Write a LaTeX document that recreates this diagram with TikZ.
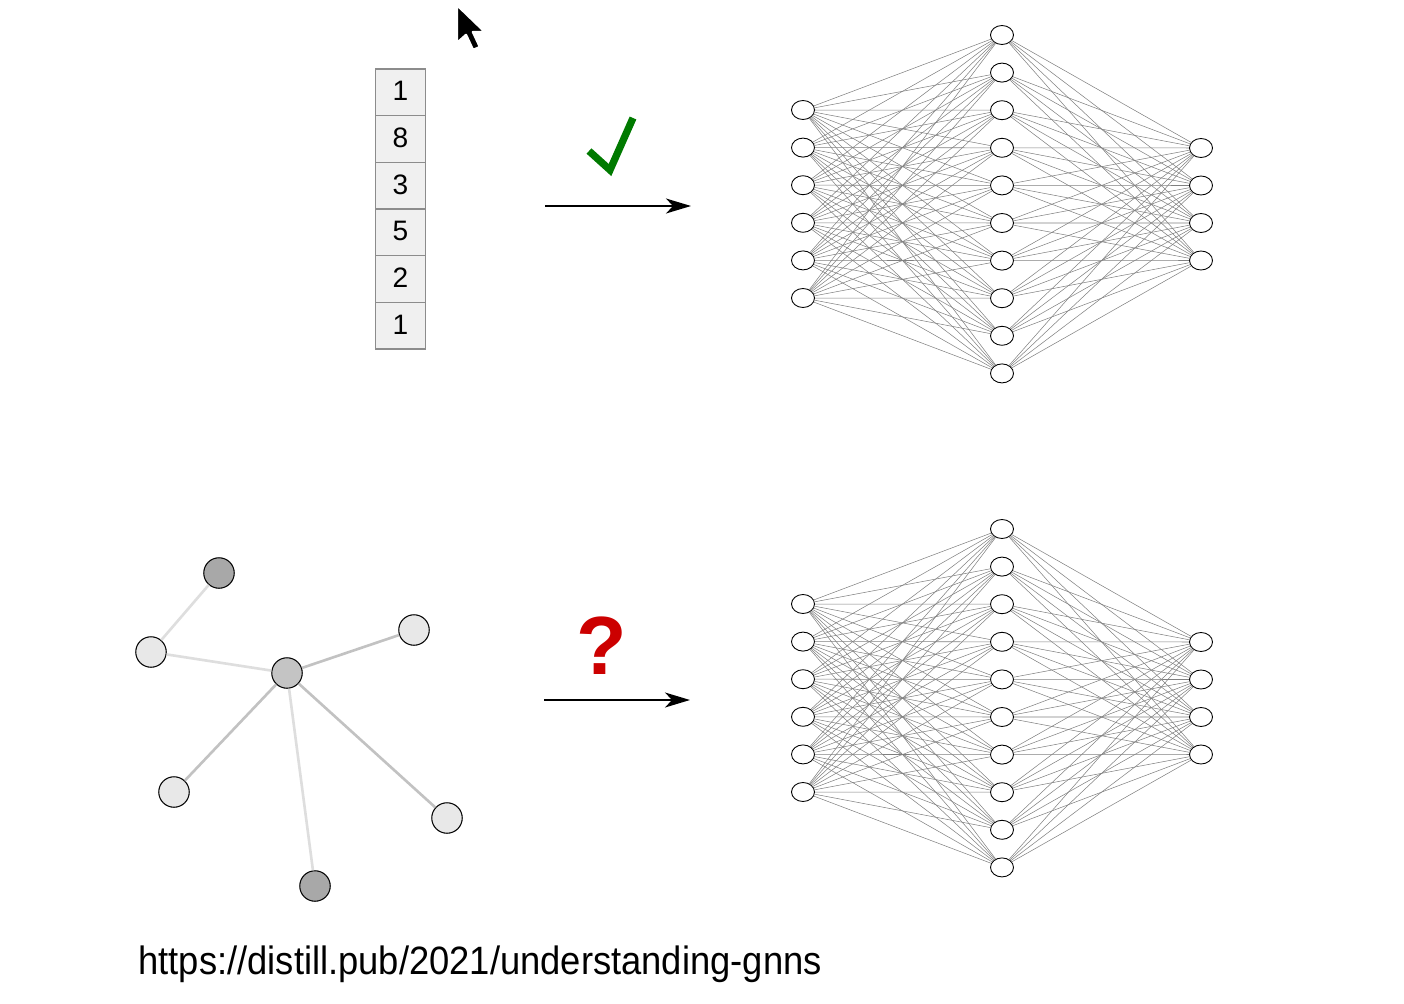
\documentclass[tikz,border=0pt]{standalone}
\usepackage{fontspec}
\setmainfont{Liberation Sans}
\usepackage{graphicx}
\usetikzlibrary{shapes.geometric}
\usetikzlibrary{arrows.meta}
\definecolor{okgreen}{RGB}{0,122,0}
\definecolor{qred}{RGB}{204,0,0}
\tikzset{%
  neuron/.style = {ellipse,draw,fill=white,line width=0.5pt,
        minimum width=0.46cm,minimum height=0.38cm,inner sep=0pt},
  synapse/.style = {draw=black!50,line width=0.3pt},
  cell/.style = {rectangle,draw=black!45,fill=black!6,line width=0.6pt,
        minimum width=1cm,minimum height=0.933cm,inner sep=0pt,
        font=\fontsize{16}{16}\selectfont},
  gnode/.style = {circle,draw,line width=0.6pt,minimum size=0.61cm,inner sep=0pt},
  lightnode/.style = {gnode,fill=black!9},
  midnode/.style = {gnode,fill=black!23},
  darknode/.style = {gnode,fill=black!34},
  faintedge/.style = {draw=black!13,line width=1.5pt},
  greyedge/.style = {draw=black!24,line width=1.5pt},
  maparrow/.style = {-{Stealth[length=0.5cm,width=0.3cm,inset=0.14cm]},line width=0.85pt}
}

\begin{document}
\begin{tikzpicture}[x=0.02cm,y=-0.02cm]
  \useasboundingbox (0,0) rectangle (1404,1004);

  % mouse pointer
  \draw[fill=black,draw=white,line width=1.4pt,line join=round]
    (457,5) -- ++(0,38) -- ++(9,-8) -- ++(7,15) -- ++(7,-3)
    -- ++(-7,-15) -- ++(12,0) -- cycle;

  % the vector
  \foreach \v [count=\k] in {1,8,3,5,2,1}
    \node[cell] (v\k) at (400.5,{69+(\k-0.5)*46.67}) {\raisebox{1.5pt}{\v}};

  % the graph
  \node[darknode] (g1) at (219,573) {};
  \node[lightnode] (g2) at (151,652) {};
  \node[midnode] (g3) at (287,673) {};
  \node[lightnode] (g4) at (414,630) {};
  \node[lightnode] (g5) at (174,792) {};
  \node[lightnode] (g6) at (447,818) {};
  \node[darknode] (g7) at (315,886) {};
  \draw[faintedge] (g1) -- (g2);
  \draw[faintedge] (g2) -- (g3);
  \draw[greyedge] (g3) -- (g4);
  \draw[greyedge] (g3) -- (g5);
  \draw[greyedge] (g3) -- (g6);
  \draw[faintedge] (g3) -- (g7);

  % arrows with marks
  \coordinate (ta) at (545,206);
  \coordinate (tb) at (691,206);
  \coordinate (ba) at (544,700);
  \coordinate (bb) at (690,700);
  \draw[maparrow] (ta) -- (tb);
  \draw[maparrow] (ba) -- (bb);
  \draw[okgreen,line width=0.145cm,line join=miter,line cap=butt]
    (589,151) -- (610,170) -- (633,118);
  \node[text=qred,font=\bfseries\fontsize{47}{47}\selectfont] (qm) at (602,646) {?};

  % the two networks
  \foreach \n/\dy in {t/0,b/494} {
    \foreach \i in {1,...,6}
      \node[neuron] (\n a\i) at (803,{110+\dy+(\i-1)*37.6}) {};
    \foreach \j in {1,...,10}
      \node[neuron] (\n h\j) at (1002,{35+\dy+(\j-1)*37.6}) {};
    \foreach \k in {1,...,4}
      \node[neuron] (\n o\k) at (1201,{148+\dy+(\k-1)*37.5}) {};
    \foreach \i in {1,...,6}
      \foreach \j in {1,...,10}
        \draw[synapse] (\n a\i) -- (\n h\j);
    \foreach \j in {1,...,10}
      \foreach \k in {1,...,4}
        \draw[synapse] (\n h\j) -- (\n o\k);
  }

  % source
  \node[anchor=west,inner sep=0pt,font=\fontsize{22.5}{22.5}\selectfont] (src) at (138,964)
    {\scalebox{0.92}[1]{https://distill.pub/2021/understanding-gnns}};
\end{tikzpicture}
\end{document}
